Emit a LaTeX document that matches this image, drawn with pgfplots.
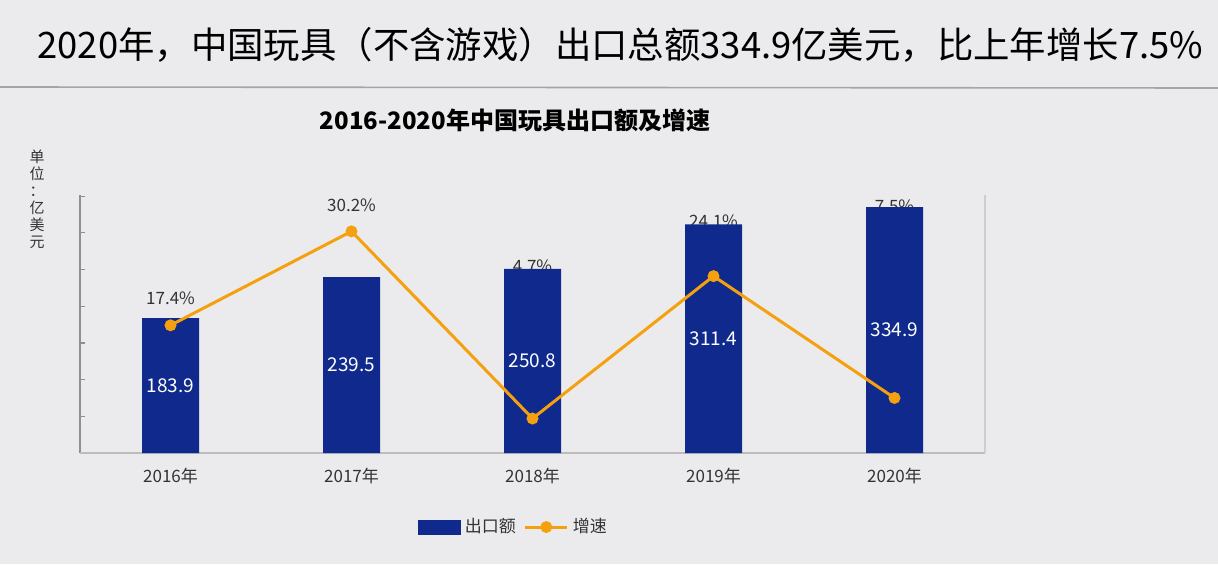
\documentclass[border=0pt]{standalone}
\usepackage{pgfplots}
\pgfplotsset{compat=1.18}
\usepackage{fontspec}
\setmainfont{Noto Sans CJK SC}
\definecolor{bg}{HTML}{EBEBED}
\definecolor{barblue}{HTML}{0F2A8C}
\definecolor{lineor}{HTML}{F5A00F}
\definecolor{txt}{HTML}{333333}
\definecolor{axgray}{HTML}{8F8F8F}
\begin{document}
\begin{tikzpicture}[x=0.5pt,y=0.5pt]
\fill[bg] (0,0) rectangle (1218,564);
\useasboundingbox (0,0) rectangle (1218,564);
\draw[color=axgray!80, line width=0.8pt] (0,477) -- (1218,476);
\node[anchor=west, inner sep=0, font=\fontsize{18.2}{20}\selectfont, text=black] at (37,519) {2020年，中国玩具（不含游戏）出口总额334.9亿美元，比上年增长7.5\%};
\node[inner sep=0, font=\fontsize{12}{14}\selectfont\bfseries, text=black] at (515,444) {2016-2020年中国玩具出口额及增速};
\node[anchor=north, inner sep=0, align=center, font=\fontsize{7.5}{8.5}\selectfont, text=txt] at (37,414) {单\\位\\：\\亿\\美\\元};
% labels layer (partly hidden behind bars)
\begin{axis}[at={(40pt,55.5pt)}, anchor=south west, scale only axis, width=452.5pt, height=129pt,
  xmin=-0.5, xmax=4.5, ymin=0, ymax=35.15, axis lines=none, clip=false]
\addplot[draw=none, mark=none, nodes near coords, point meta=explicit symbolic,
  every node near coord/.style={anchor=center, inner sep=0pt, font=\fontsize{8.5}{10}\selectfont, text=txt}]
  coordinates {(0,21.1)[17.4\%] (1,33.8)[30.2\%] (2,25.4)[4.7\%] (3,31.6)[24.1\%] (4,33.65)[7.5\%]};
\end{axis}
% bars
\begin{axis}[at={(40pt,55.5pt)}, anchor=south west, scale only axis, width=452.5pt, height=129pt,
  xmin=-0.5, xmax=4.5, ymin=0, ymax=351.5, clip=false,
  axis line style={draw=none},
  xtick=data, xticklabels={2016年,2017年,2018年,2019年,2020年},
  xtick style={draw=none},
  x tick label style={font=\fontsize{8.5}{10}\selectfont, text=txt, yshift=-4pt},
  ytick={0,50,...,350}, yticklabels={}, tick align=inside, ytick pos=left,
  y tick style={axgray, line width=0.6pt}, major tick length=2.5pt,
  /pgf/number format/assume math mode=true]
\draw[axgray, line width=0.6pt] (rel axis cs:0,0) -- (rel axis cs:0,1);
\draw[axgray!60, line width=0.6pt] (rel axis cs:0,0) -- (rel axis cs:1,0);
\draw[axgray!45, line width=0.6pt] (rel axis cs:1,0) -- (rel axis cs:1,1);
\addplot[ybar, bar width=28.5pt, fill=barblue, draw=none]
  coordinates {(0,183.9) (1,239.5) (2,250.8) (3,311.4) (4,334.9)};
\addplot[draw=none, mark=none, nodes near coords, point meta=explicit symbolic,
  every node near coord/.style={anchor=center, font=\fontsize{9.5}{11}\selectfont, text=white}]
  coordinates {(0,91.95)[183.9] (1,119.75)[239.5] (2,125.4)[250.8] (3,155.7)[311.4] (4,167.45)[334.9]};
\end{axis}
% line
\begin{axis}[at={(40pt,55.5pt)}, anchor=south west, scale only axis, width=452.5pt, height=129pt,
  xmin=-0.5, xmax=4.5, ymin=0, ymax=35.15, axis lines=none, clip=false,
  legend style={at={(0.48,-0.287)}, anchor=center, draw=none, fill=none,
    font=\fontsize{8.5}{10}\selectfont, text=txt, legend columns=2,
    /tikz/every even column/.append style={column sep=2pt}},
  legend cell align=left]
\addlegendimage{legend image code/.code={\fill[barblue] (0pt,-3.5pt) rectangle (21pt,3.5pt);}}
\addlegendentry{出口额}
\addplot[lineor, line width=1.5pt, mark=*, mark size=2.2pt, mark options={fill=lineor, draw=lineor},
  legend image code/.code={\draw[lineor, line width=1.5pt] (0pt,0pt) -- (21pt,0pt); \fill[lineor] (10.5pt,0pt) circle (2.2pt);}]
  coordinates {(0,17.4) (1,30.2) (2,4.7) (3,24.1) (4,7.5)};
\addlegendentry{增速}
\end{axis}
\end{tikzpicture}
\end{document}
